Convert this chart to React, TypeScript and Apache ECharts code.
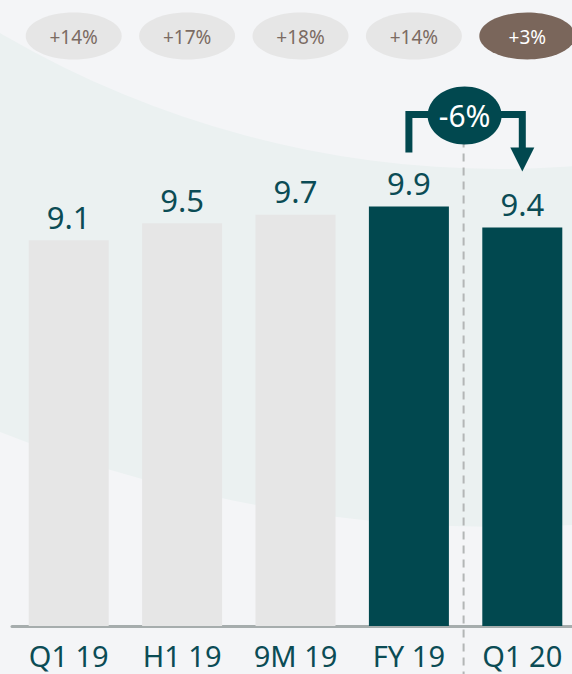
import React, { useEffect, useRef } from "react";
import * as echarts from "echarts";

const categories = ["Q1 19", "H1 19", "9M 19", "FY 19", "Q1 20"];
const values = [9.1, 9.5, 9.7, 9.9, 9.4];
const highlighted = [false, false, false, true, true];
const growthLabels = ["+14%", "+17%", "+18%", "+14%", "+3%"];
const growthHighlighted = [false, false, false, false, true];
const changeLabel = "-6%";

const DARK = "#01484f";
const LIGHT_BAR = "#e6e6e6";
const TEXT = "#0b4c55";
const BG = "#f4f5f7";
const BAND = "#ebf1f1";
const FONT = "Noto Sans";

export default function App() {
  const ref = useRef<HTMLDivElement>(null);

  useEffect(() => {
    if (!ref.current) return;
    const chart = echarts.init(ref.current, null, { renderer: "svg" });
    const H = 674;

    chart.setOption({
      animation: false,
      backgroundColor: BG,
      grid: { left: 12, width: 567, top: 75, bottom: 48, containLabel: false },
      xAxis: {
        type: "category",
        data: categories,
        axisLine: { show: true, lineStyle: { color: "#a6adad", width: 3 } },
        axisTick: { show: false },
        axisLabel: {
          color: TEXT,
          fontFamily: FONT,
          fontSize: 29,
          lineHeight: 30,
          margin: 14,
          interval: 0,
        },
      },
      yAxis: {
        type: "value",
        min: 0,
        max: 13,
        show: false,
        splitLine: { show: false },
      },
      series: [
        {
          type: "bar",
          barWidth: 80,
          z: 5,
          data: values.map((v, i) => ({
            value: v,
            itemStyle: { color: highlighted[i] ? DARK : LIGHT_BAR },
          })),
          label: {
            show: true,
            position: "top",
            distance: 8,
            color: TEXT,
            fontFamily: FONT,
            fontSize: 31,
            formatter: (p: any) => p.value.toFixed(1),
          },
        },
      ],
    });

    const px = (i: number, v: number) =>
      chart.convertToPixel({ seriesIndex: 0 }, [i, v]) as number[];

    const centers = categories.map((_, i) => px(i, 0)[0]);
    const tops = values.map((v, i) => px(i, v)[1]);
    const n = categories.length;
    const iFrom = n - 2;
    const iTo = n - 1;
    const xL = centers[iFrom];
    const xR = centers[iTo];
    const xMid = (xL + xR) / 2 - 1;
    const yBar = Math.min(tops[iFrom], tops[iTo]) - 92;
    const stemL = tops[iFrom] - 54;
    const stemR = tops[iTo] - 79;
    const tipR = tops[iTo] - 56;

    const graphic: any[] = [
      {
        type: "circle",
        silent: true,
        z: -10,
        shape: { cx: 500, cy: -836, r: 1363 },
        style: { fill: BAND },
      },
      {
        type: "circle",
        silent: true,
        z: -9,
        shape: { cx: 500, cy: -818, r: 987 },
        style: { fill: BG },
      },
      {
        type: "line",
        silent: true,
        z: 10,
        shape: { x1: xMid - 1, y1: yBar + 25, x2: xMid - 1, y2: H },
        style: { stroke: "#b3b6b6", lineWidth: 2, lineDash: [8, 6] },
      },
      {
        type: "polyline",
        silent: true,
        z: 10,
        shape: {
          points: [
            [xL, stemL],
            [xL, yBar],
            [xR, yBar],
            [xR, stemR],
          ],
        },
        style: { stroke: DARK, lineWidth: 7, fill: null, lineJoin: "miter" },
      },
      {
        type: "polygon",
        silent: true,
        z: 10,
        shape: {
          points: [
            [xR - 12, stemR - 1],
            [xR + 12, stemR - 1],
            [xR, tipR],
          ],
        },
        style: { fill: DARK },
      },
      {
        type: "ellipse",
        silent: true,
        z: 11,
        shape: { cx: xMid, cy: yBar + 1, rx: 37, ry: 29 },
        style: { fill: DARK },
      },
      {
        type: "text",
        silent: true,
        z: 12,
        x: xMid,
        y: yBar + 1,
        style: {
          text: changeLabel,
          fill: "#ffffff",
          fontFamily: FONT,
          fontSize: 30,
          align: "center",
          verticalAlign: "middle",
        },
      },
    ];

    growthLabels.forEach((g, i) => {
      const cx = centers[i] + 5;
      const hi = growthHighlighted[i];
      graphic.push({
        type: "ellipse",
        silent: true,
        z: 10,
        shape: { cx, cy: 36, rx: 48, ry: 23.5 },
        style: { fill: hi ? "#7a665b" : "#e6e6e6" },
      });
      graphic.push({
        type: "text",
        silent: true,
        z: 11,
        x: cx,
        y: 37,
        style: {
          text: g,
          fill: hi ? "#ffffff" : "#7b6b62",
          fontFamily: FONT,
          fontSize: 19,
          align: "center",
          verticalAlign: "middle",
        },
      });
    });

    chart.setOption({ graphic });

    return () => chart.dispose();
  }, []);

  return (
    <div
      style={{
        position: "absolute",
        left: 0,
        top: 0,
        width: 572,
        height: 674,
        overflow: "hidden",
        background: BG,
      }}
    >
      <div ref={ref} style={{ width: 582, height: 674 }} />
    </div>
  );
}
